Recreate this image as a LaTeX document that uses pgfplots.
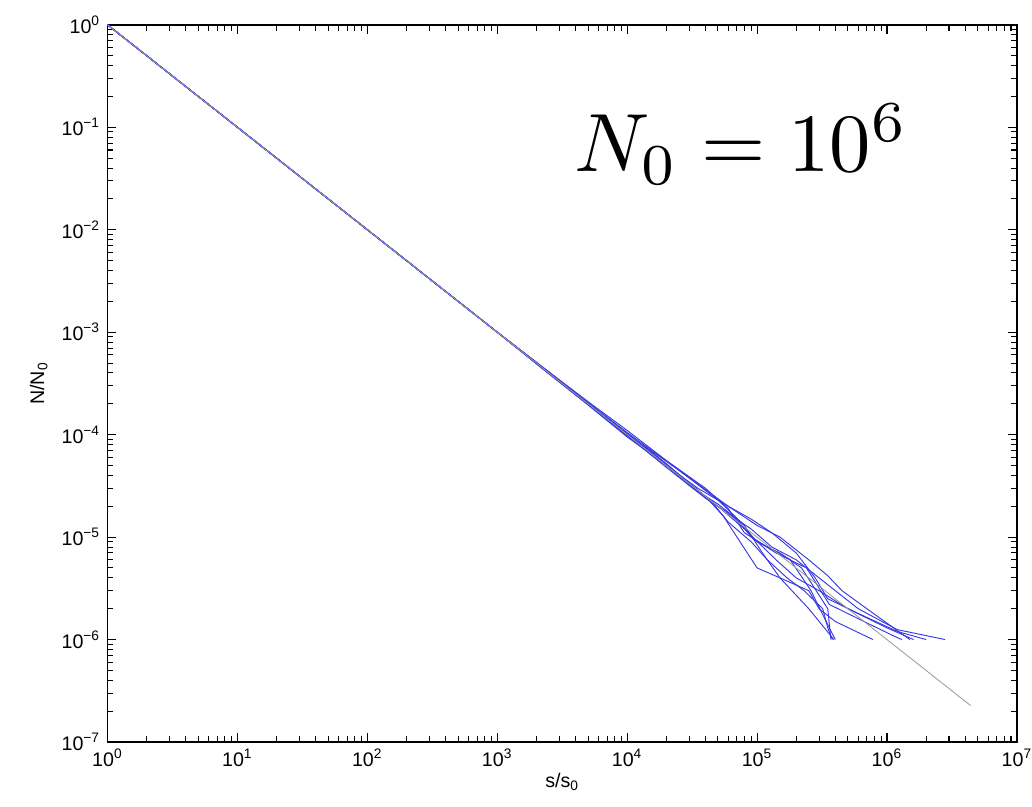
\documentclass[border=0pt]{standalone}
\usepackage{fontspec}
\setmainfont{Liberation Sans}
\usepackage{pgfplots}
\pgfplotsset{compat=1.18}
\definecolor{simblue}{RGB}{55,55,225}
\pgfplotsset{run/.style={simblue, no markers, line width=0.45pt, line join=round}}
\begin{document}
\begin{tikzpicture}
\begin{loglogaxis}[
    scale only axis,
    width=440pt, height=347pt,
    xmin=1, xmax=1e7, ymin=1e-7, ymax=1,
    xticklabel={\pgfmathparse{int(round(\tick/ln(10)))}10\textsuperscript{\pgfmathresult}},
    yticklabel={\pgfmathparse{int(round(-\tick/ln(10)))}10\textsuperscript{\ifnum\pgfmathresult=0 0\else −\pgfmathresult\fi}},
    tick label style={font=\fontsize{9.5}{11}\selectfont},
    label style={font=\fontsize{9.5}{11}\selectfont},
    xlabel={s/s\textsubscript{0}},
    ylabel={N/N\textsubscript{0}},
    xlabel style={yshift=4pt},
    axis line style={line width=0.8pt},
    every tick/.style={black, line width=0.5pt},
    clip=false,
]
% blue realisations
\addplot[run] coordinates {(1,1) (10,0.1) (100,0.01) (1000,1e-3) (2000,5.05e-4) (5000,2.02e-4) (1e4,1.02e-4) (2e4,5.2e-5) (3.5e4,2.8e-5) (5e4,2.1e-5) (7e4,1.5e-5) (1e5,9e-6) (1.5e5,7e-6) (2.2e5,5e-6) (3.5e5,2e-6) (3.7e5,1e-6)};
\addplot[run] coordinates {(1,1) (10,0.1) (100,0.01) (1000,1e-3) (2000,4.95e-4) (5000,1.97e-4) (1e4,9.8e-5) (2e4,4.8e-5) (4e4,2.4e-5) (6e4,1.7e-5) (9e4,1.2e-5) (1.3e5,8e-6) (2e5,6e-6) (3e5,4e-6) (4e5,3e-6) (6e5,2e-6) (1.2e6,1.25e-6) (2.8e6,1e-6)};
\addplot[run] coordinates {(1,1) (10,0.1) (100,0.01) (1000,1e-3) (2000,5.1e-4) (5000,2.05e-4) (1e4,1.05e-4) (2.5e4,4.5e-5) (5e4,2.3e-5) (8e4,1.3e-5) (1.1e5,7e-6) (1.5e5,4e-6) (2.5e5,2e-6) (3.9e5,1e-6)};
\addplot[run] coordinates {(1,1) (10,0.1) (100,0.01) (1000,1e-3) (2000,5e-4) (5000,2e-4) (1e4,1e-4) (2e4,5.5e-5) (3e4,3.8e-5) (6e4,2e-5) (1e5,1.3e-5) (1.5e5,1e-5) (2.5e5,6e-6) (3.5e5,4.2e-6) (4.5e5,3e-6) (7e5,2e-6) (1.5e6,1e-6)};
\addplot[run] coordinates {(1,1) (10,0.1) (100,0.01) (1000,1e-3) (2000,4.9e-4) (5000,1.95e-4) (1e4,9.5e-5) (2.2e4,4.6e-5) (4e4,2.5e-5) (5.5e4,1.6e-5) (7e4,1e-5) (1e5,5e-6) (1.5e5,4e-6) (2.5e5,3e-6) (3e5,2e-6) (4e5,1.5e-6) (7.8e5,1e-6)};
\addplot[run] coordinates {(1,1) (10,0.1) (100,0.01) (1000,1e-3) (2000,5.02e-4) (5000,2.03e-4) (1e4,1e-4) (2e4,5e-5) (3.5e4,3e-5) (6e4,2e-5) (9e4,1.5e-5) (1.3e5,1.1e-5) (2e5,7e-6) (2.8e5,4e-6) (3.5e5,2.5e-6) (6e5,1.8e-6) (1.2e6,1.2e-6) (2e6,1e-6)};
\addplot[run] coordinates {(1,1) (10,0.1) (100,0.01) (1000,1e-3) (2000,5.08e-4) (5000,2.1e-4) (1e4,1.1e-4) (2e4,5.6e-5) (4e4,3e-5) (6e4,1.9e-5) (8e4,1.1e-5) (1.2e5,8e-6) (1.8e5,6e-6) (2.6e5,3e-6) (3.4e5,1.5e-6) (4e5,1e-6)};
\addplot[run] coordinates {(1,1) (10,0.1) (100,0.01) (1000,1e-3) (2000,4.97e-4) (5000,1.96e-4) (1e4,9.7e-5) (2e4,5e-5) (3e4,3.2e-5) (5e4,2e-5) (8e4,1.2e-5) (1.4e5,6e-6) (2e5,4e-6) (3e5,3e-6) (5e5,2e-6) (1e6,1.3e-6) (1.6e6,1e-6)};
\addplot[run] coordinates {(1,1) (10,0.1) (100,0.01) (1000,1e-3) (2000,5e-4) (5000,1.99e-4) (1e4,1e-4) (2.5e4,4e-5) (5e4,2e-5) (7e4,1.5e-5) (9e4,1e-5) (1.4e5,7e-6) (2.4e5,5e-6) (3.6e5,2.2e-6) (6e5,1.6e-6) (1.1e6,1.1e-6) (1.3e6,1e-6)};
\addplot[run] coordinates {(1,1) (10,0.1) (100,0.01) (1000,1e-3) (2000,5.03e-4) (5000,2.04e-4) (1e4,1.02e-4) (2e4,5.2e-5) (4.5e4,2.2e-5) (6e4,1.4e-5) (9e4,9e-6) (1.2e5,6e-6) (1.7e5,4e-6) (2.3e5,3e-6) (3.2e5,2e-6) (3.5e5,1.3e-6) (3.8e5,1e-6)};
% mean-field 1/s
\addplot[gray!80, line width=0.4pt] coordinates {(1,1) (4.4e6,2.27e-7)};
\node[scale=4, anchor=center] at (axis cs:7.6e4,0.068) {$N_0 = 10^6$};
\end{loglogaxis}
\pgfresetboundingbox
\path[use as bounding box] ([shift={(-52pt,-31pt)}]current axis.south west) rectangle ([shift={(7.3pt,12pt)}]current axis.north east);
\end{tikzpicture}
\end{document}
